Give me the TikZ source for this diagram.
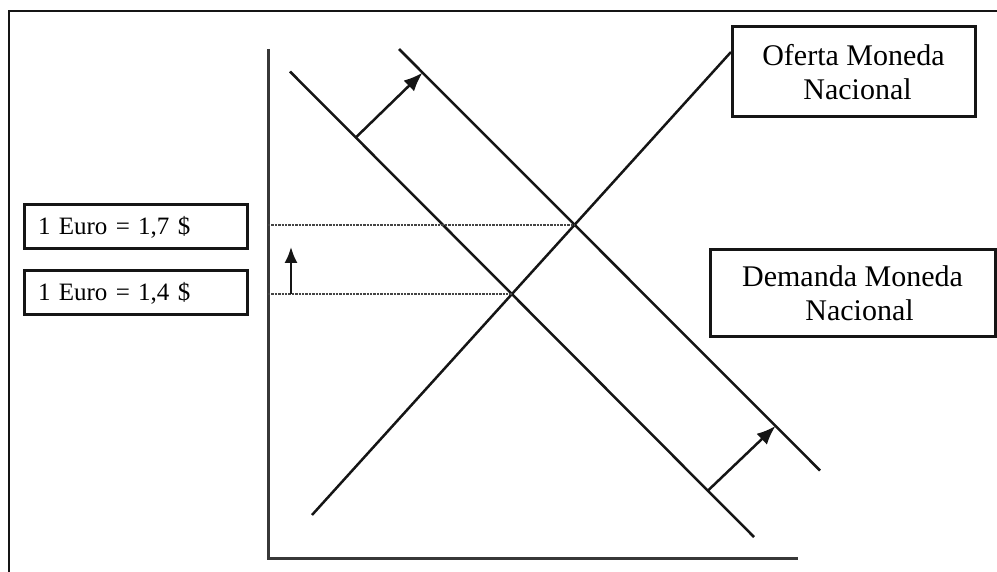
\documentclass[tikz,border=0pt]{standalone}
\usepackage{fontspec}
\setmainfont{Liberation Serif}
\usetikzlibrary{arrows.meta,calc}
\definecolor{ink}{HTML}{151515}
\tikzset{
  curve/.style={draw=ink,line width=2.5pt},
  axis/.style={draw=ink!85,line width=3pt},
  shift arrow/.style={draw=ink,line width=2.5pt,-{Latex[length=19pt,width=15pt]}},
  guide/.style={draw=ink!80,line width=2.4pt,densely dotted},
  smallbox/.style={draw=ink,line width=3pt,minimum height=44pt,text width=195pt,
    inner xsep=14pt,inner ysep=0pt,align=left,font=\fontsize{25}{29}\selectfont},
  bigbox/.style={draw=ink,line width=3pt,align=center,inner sep=0pt,
    font=\fontsize{30}{34}\selectfont},
}
\begin{document}
\begin{tikzpicture}[x=1pt,y=-1pt]
\useasboundingbox (0,0) rectangle (997,572);
% outer frame
\draw[draw=ink,line width=2.4pt] (9,572) -- (9,11) -- (997,11);
% axes
\coordinate (ytop) at (268,49);
\coordinate (orig) at (268,558);
\coordinate (xend) at (798,558);
\draw[axis] (ytop) -- (orig) -- (xend);
% supply
\coordinate (S1) at (312,515);
\coordinate (S2) at (731,52);
\draw[curve] (S1) -- (S2);
% demand 1
\coordinate (D1a) at (290,71.5);
\coordinate (D1b) at (754,537);
\draw[curve] (D1a) -- (D1b);
% demand 2
\coordinate (D2a) at (399,49);
\coordinate (D2b) at (820,470.5);
\draw[curve] (D2a) -- (D2b);
% equilibria
\coordinate (E1) at (intersection of S1--S2 and D1a--D1b);
\coordinate (E2) at (intersection of S1--S2 and D2a--D2b);
\draw[guide] (ytop |- E2) -- (E2);
\draw[guide] (ytop |- E1) -- (E1);
% shift arrows
\coordinate (a1s) at ($(D1a)!0.1418!(D1b)$);
\coordinate (a1e) at ($(D2a)!0.0560!(D2b)$);
\draw[shift arrow] (a1s) -- (a1e);
\coordinate (a2s) at ($(D1a)!0.9005!(D1b)$);
\coordinate (a2e) at ($(D2a)!0.8944!(D2b)$);
\draw[shift arrow] (a2s) -- (a2e);
% price rise arrow
\coordinate (p1) at ($(ytop |- E1)+(23,0)$);
\coordinate (p2) at ($(ytop |- E2)+(23,22)$);
\draw[draw=ink,line width=2.5pt,-{Latex[length=16pt,width=13pt]}] (p1) -- (p2);
% labels
\node[smallbox] (hi) at (135.5,227) {1 Euro = 1,7 \$};
\node[smallbox] (lo) at (135.5,293) {1 Euro = 1,4 \$};
\node[bigbox,minimum width=243pt,minimum height=90pt] (ofe) at (853.5,72) {Oferta Moneda\\\hspace*{8pt}Nacional};
\node[bigbox,minimum width=285pt,minimum height=87pt] (dem) at (852.5,293.5) {Demanda Moneda\\\hspace*{14pt}Nacional};
\end{tikzpicture}
\end{document}
